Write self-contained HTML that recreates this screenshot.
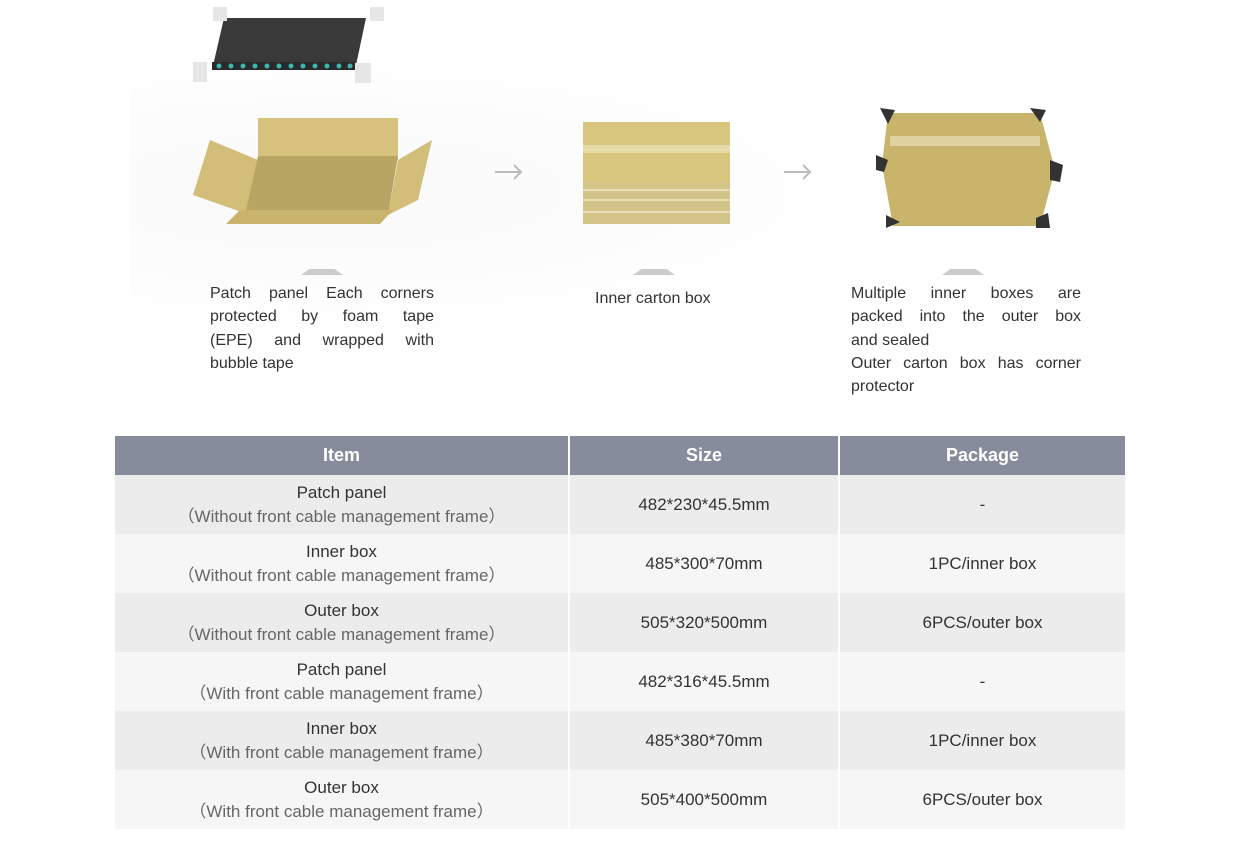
<!DOCTYPE html>
<html><head><meta charset="utf-8"><style>
body{margin:0;width:1240px;height:846px;background:#fff;font-family:"Liberation Sans",sans-serif;position:relative;overflow:hidden}
.cap{position:absolute;font-size:16px;color:#333;line-height:23.3px}
.j{text-align:justify;text-align-last:justify;white-space:nowrap}
.tri{position:absolute;width:42px;height:6px;background:#ccc;clip-path:polygon(20% 0,80% 0,100% 100%,0 100%)}
table{position:absolute;left:115px;top:436px;border-collapse:collapse;width:1010px;table-layout:fixed}
td,th{text-align:center;padding:0;border-right:2px solid #fff;font-size:17px;color:#333}
th{background:#868c9c;color:#fff;height:39px;font-size:18px}
td{height:59px;line-height:24px}
tr:nth-child(even) td{background:#ececec}
tr:nth-child(odd) td{background:#f6f6f6}
.s{color:#666}
</style></head><body>
<div style="position:absolute;left:130px;top:60px;width:990px;height:330px;background:radial-gradient(ellipse at 20% 40%,#f9f9f9,#fff 55%)"></div>
<svg style="position:absolute;left:0;top:0" width="1240" height="280">
 <polygon points="224,18 366,18 355,70 212,70" fill="#3a3a3a"/>
 <rect x="212" y="62" width="143" height="8" fill="#2a2a2a"/>
 <g fill="#3bb5b0"><circle cx="219" cy="66" r="2.5"/><circle cx="231" cy="66" r="2.5"/><circle cx="243" cy="66" r="2.5"/><circle cx="255" cy="66" r="2.5"/><circle cx="267" cy="66" r="2.5"/><circle cx="279" cy="66" r="2.5"/><circle cx="291" cy="66" r="2.5"/><circle cx="303" cy="66" r="2.5"/><circle cx="315" cy="66" r="2.5"/><circle cx="327" cy="66" r="2.5"/><circle cx="339" cy="66" r="2.5"/><circle cx="350" cy="66" r="2.5"/></g>
 <g fill="#e6e6e6"><rect x="213" y="7" width="14" height="14"/><rect x="370" y="7" width="14" height="14"/><rect x="193" y="62" width="14" height="20"/><rect x="355" y="63" width="16" height="20"/></g>
 <polygon points="258,118 398,118 398,160 258,160" fill="#d6c27c"/>
 <polygon points="210,140 258,160 250,215 193,195" fill="#d2be78"/>
 <polygon points="398,160 432,140 418,200 388,215" fill="#d2be78"/>
 <polygon points="258,156 398,156 388,215 245,215" fill="#b8a563"/>
 <polygon points="240,210 393,210 380,224 226,224" fill="#c9b46e"/>
 <g stroke="#bbb" stroke-width="2" fill="none"><path d="M495 172h26M514 165l7 7-7 7"/><path d="M784 172h26M803 165l7 7-7 7"/></g>
 <rect x="583" y="122" width="147" height="60" fill="#d8c67e"/>
 <rect x="583" y="145" width="147" height="8" fill="#e6dba8"/>
 <rect x="583" y="182" width="147" height="42" fill="#d5c48a"/>
 <g stroke="#e8dfb6" stroke-width="2"><line x1="583" y1="190" x2="730" y2="190"/><line x1="583" y1="200" x2="730" y2="200"/><line x1="583" y1="212" x2="730" y2="212"/></g>
 <polygon points="888,113 1040,113 1055,170 1040,226 893,226 882,165" fill="#c9b46c"/>
 <rect x="890" y="136" width="150" height="10" fill="#ddd2a0"/>
 <g fill="#333"><polygon points="880,108 895,110 888,124"/><polygon points="1030,108 1046,110 1040,122"/><polygon points="876,155 888,160 884,172 876,170"/><polygon points="1050,160 1063,165 1060,182 1050,180"/><polygon points="886,215 900,222 886,228"/><polygon points="1036,218 1048,213 1050,228 1036,228"/></g>
</svg>
<div class="tri" style="left:301px;top:269px"></div>
<div class="tri" style="left:633px;top:269px"></div>
<div class="tri" style="left:942px;top:269px"></div>
<div class="cap" style="left:210px;top:282px;width:224px"><div class="j">Patch panel Each corners</div><div class="j">protected by foam tape</div><div class="j">(EPE) and wrapped with</div><div>bubble tape</div></div>
<div class="cap" style="left:595px;top:287px">Inner carton box</div>
<div class="cap" style="left:851px;top:282px;width:230px"><div class="j">Multiple inner boxes are</div><div class="j">packed into the outer box</div><div>and sealed</div><div class="j">Outer carton box has corner</div><div>protector</div></div>
<table>
<colgroup><col style="width:454px"><col style="width:270px"><col></colgroup>
<tr><th>Item</th><th>Size</th><th style="border-right:0">Package</th></tr>
<tr><td>Patch panel<br><span class="s">（Without front cable management frame）</span></td><td>482*230*45.5mm</td><td style="border-right:0">-</td></tr>
<tr><td>Inner box<br><span class="s">（Without front cable management frame）</span></td><td>485*300*70mm</td><td style="border-right:0">1PC/inner box</td></tr>
<tr><td>Outer box<br><span class="s">（Without front cable management frame）</span></td><td>505*320*500mm</td><td style="border-right:0">6PCS/outer box</td></tr>
<tr><td>Patch panel<br><span class="s">（With front cable management frame）</span></td><td>482*316*45.5mm</td><td style="border-right:0">-</td></tr>
<tr><td>Inner box<br><span class="s">（With front cable management frame）</span></td><td>485*380*70mm</td><td style="border-right:0">1PC/inner box</td></tr>
<tr><td>Outer box<br><span class="s">（With front cable management frame）</span></td><td>505*400*500mm</td><td style="border-right:0">6PCS/outer box</td></tr>
</table>
</body></html>
